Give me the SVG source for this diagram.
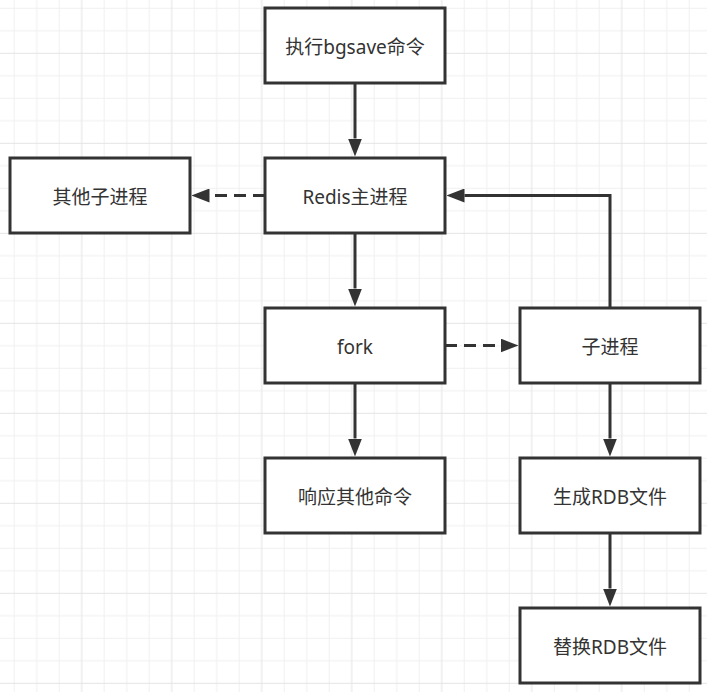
<svg xmlns="http://www.w3.org/2000/svg" width="707" height="692" viewBox="0 0 707 692">
<defs>
<pattern id="grid" patternUnits="userSpaceOnUse" x="13.7" y="7.8" width="90" height="90">
<rect x="0" y="0" width="1" height="90" fill="#f0f0f0"/>
<rect x="22.5" y="0" width="1" height="90" fill="#f0f0f0"/>
<rect x="45" y="0" width="1" height="90" fill="#f0f0f0"/>
<rect x="0" y="0" width="90" height="1" fill="#f0f0f0"/>
<rect x="0" y="22.5" width="90" height="1" fill="#f0f0f0"/>
<rect x="0" y="67.5" width="90" height="1" fill="#f0f0f0"/>
<rect x="67.5" y="0" width="1" height="90" fill="#e4e4e4"/>
<rect x="0" y="45" width="90" height="1" fill="#e4e4e4"/>
</pattern>
<marker id="arrow" markerUnits="userSpaceOnUse" markerWidth="18" markerHeight="14" refX="0" refY="7" orient="auto" viewBox="0 0 18 14">
<path d="M0,0 L18,7 L0,14 Z" fill="#333333"/>
</marker>
<style>
.box rect { fill: #ffffff; stroke: #333333; stroke-width: 3; }
.box text { font-family: "Noto Sans", "Noto Sans CJK SC", sans-serif; font-size: 19px; fill: #333333; text-anchor: middle; dominant-baseline: central; }
.edge { fill: none; stroke: #333333; stroke-width: 3; marker-end: url(#arrow); }
.dash { stroke-dasharray: 12 7; }
</style>
</defs>
<rect x="0" y="0" width="707" height="692" fill="#ffffff"/>
<rect x="0" y="0" width="707" height="692" fill="url(#grid)"/>
<g id="connectors">
<path class="edge" d="M355,83 V138.5"/>
<path class="edge dash" d="M265,195.5 H209.5"/>
<path class="edge" d="M355,233 V288.5"/>
<path class="edge dash" d="M445,345.5 H500.5"/>
<path class="edge" d="M610,308 V195.5 H464.5"/>
<path class="edge" d="M355,383 V438.5"/>
<path class="edge" d="M610,383 V438.5"/>
<path class="edge" d="M610,533 V588.5"/>
</g>
<g id="bgsave" class="box"><rect x="265" y="8" width="180" height="75"/><text x="355" y="46.5">执行bgsave命令</text></g>
<g id="redis" class="box"><rect x="265" y="158" width="180" height="75"/><text x="355" y="196.5">Redis主进程</text></g>
<g id="other" class="box"><rect x="10" y="158" width="180" height="75"/><text x="100" y="196.5">其他子进程</text></g>
<g id="fork" class="box"><rect x="265" y="308" width="180" height="75"/><text x="355" y="346.5">fork</text></g>
<g id="child" class="box"><rect x="520" y="308" width="180" height="75"/><text x="610" y="346.5">子进程</text></g>
<g id="respond" class="box"><rect x="265" y="458" width="180" height="75"/><text x="355" y="496.5">响应其他命令</text></g>
<g id="gen" class="box"><rect x="520" y="458" width="180" height="75"/><text x="610" y="496.5">生成RDB文件</text></g>
<g id="replace" class="box"><rect x="520" y="608" width="180" height="75"/><text x="610" y="646.5">替换RDB文件</text></g>
</svg>
